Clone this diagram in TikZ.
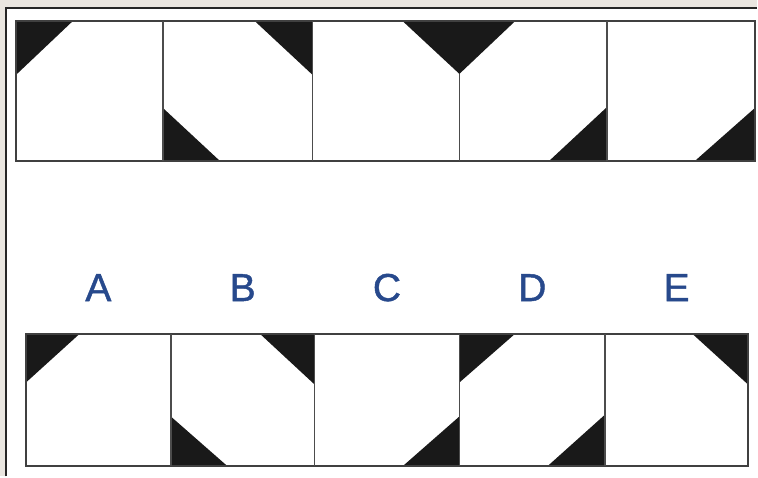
\documentclass[tikz,border=0pt]{standalone}
\usepackage{fontspec}
\setmainfont{Liberation Sans}
\newfontfamily\letterfont[FakeBold=1.2]{Liberation Sans}
\usepackage{xcolor}
\usepackage{tikz}
\usetikzlibrary{positioning}
\definecolor{pagegray}{HTML}{EAE6E0}
\definecolor{letterblue}{HTML}{27498C}

\begin{document}
\begin{tikzpicture}[
		x=1pt,y=-1pt,
		cell/.style={draw=black!75,line width=2pt},
		divider/.style={draw=black!70,line width=1.8pt},
		wedge/.style={fill=black!90},
		option label/.style={font=\letterfont\fontsize{39}{39}\selectfont,text=letterblue,inner sep=0pt}
	]
		% Page background with the cut frame at top and left.
		\fill[pagegray] (0,0) rectangle (758,477);
		\fill[white] (6,8) rectangle (758,477);
		\draw[black!85,line width=2pt] (6,477) -- (6,8) -- (758,8);

		% Question row: black corner wedges.
		\fill[wedge] (16,21) -- (73,21) -- (16,75) -- cycle;
		\fill[wedge] (313,21) -- (255,21) -- (313,75) -- cycle;
		\fill[wedge] (163,161) -- (163,108) -- (220,161) -- cycle;
		\fill[wedge] (403,21) -- (516,21) -- (460,74) -- cycle;
		\fill[wedge] (608,161) -- (608,107) -- (550,161) -- cycle;
		\fill[wedge] (756,161) -- (756,108) -- (696,161) -- cycle;

		% Question row: frame and dividers.
		\draw[cell] (16,21) rectangle (756,161);
		\foreach \x in {163,313,608}
			\draw[divider] (\x,21) -- (\x,161);
		\draw[divider] (460,74) -- (460,161);

		% Answer labels.
		\foreach \x/\l in {98.5/A,243/B,387.5/C,533/D,677.5/E}
			\node[option label] (opt\l) at (\x,288) {\l};

		% Answer row: black corner wedges.
		\fill[wedge] (26,334) -- (80,334) -- (26,383) -- cycle;
		\fill[wedge] (315,334) -- (260,334) -- (315,385) -- cycle;
		\fill[wedge] (171,467) -- (171,417) -- (228,467) -- cycle;
		\fill[wedge] (460,467) -- (460,417) -- (403,467) -- cycle;
		\fill[wedge] (460,334) -- (516,334) -- (460,383) -- cycle;
		\fill[wedge] (606,467) -- (606,415) -- (548,467) -- cycle;
		\fill[wedge] (749,334) -- (693,334) -- (749,385) -- cycle;

		% Answer row: frame and dividers.
		\draw[cell] (26,334) rectangle (749,467);
		\foreach \x in {171,315,460,606}
			\draw[divider] (\x,334) -- (\x,467);
	\end{tikzpicture}
\end{document}
